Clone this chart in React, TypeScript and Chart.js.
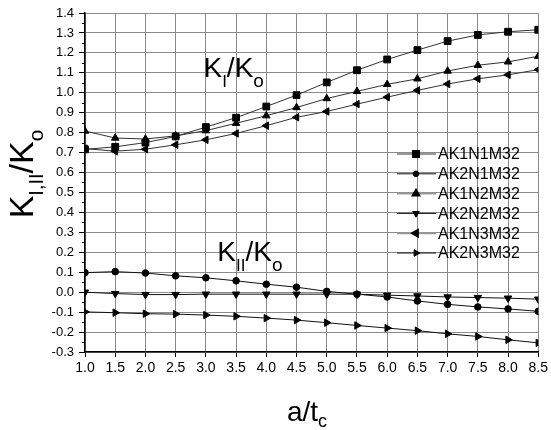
import React, { useEffect, useRef } from "react";
import { Chart, registerables } from "chart.js";
import { drawPoint } from "chart.js/helpers";

Chart.register(...registerables);

const xs = [1.0, 1.5, 2.0, 2.5, 3.0, 3.5, 4.0, 4.5, 5.0, 5.5, 6.0, 6.5, 7.0, 7.5, 8.0, 8.5];

const AK1N1M32 = [0.716, 0.729, 0.75, 0.781, 0.828, 0.875, 0.931, 0.988, 1.052, 1.113, 1.167, 1.214, 1.259, 1.29, 1.306, 1.316];
const AK2N1M32 = [0.098, 0.103, 0.096, 0.082, 0.072, 0.057, 0.04, 0.025, 0.004, -0.01, -0.024, -0.044, -0.061, -0.074, -0.084, -0.096];
const AK1N2M32 = [0.808, 0.773, 0.768, 0.784, 0.81, 0.847, 0.885, 0.926, 0.971, 1.007, 1.042, 1.07, 1.109, 1.138, 1.155, 1.183];
const AK2N2M32 = [0.0, -0.007, -0.012, -0.012, -0.01, -0.01, -0.01, -0.01, -0.01, -0.01, -0.015, -0.019, -0.024, -0.027, -0.03, -0.035];
const AK1N3M32 = [0.72, 0.707, 0.717, 0.739, 0.764, 0.796, 0.835, 0.877, 0.906, 0.943, 0.978, 1.012, 1.044, 1.07, 1.09, 1.116];
const AK2N3M32 = [-0.099, -0.103, -0.108, -0.11, -0.115, -0.121, -0.13, -0.14, -0.153, -0.167, -0.18, -0.193, -0.209, -0.222, -0.239, -0.254];

const seriesNames = ["AK1N1M32", "AK2N1M32", "AK1N2M32", "AK2N2M32", "AK1N3M32", "AK2N3M32"];
const seriesValues = [AK1N1M32, AK2N1M32, AK1N2M32, AK2N2M32, AK1N3M32, AK2N3M32];
const pointStyles = ["rect", "circle", "triangle", "triangle", "triangle", "triangle"];
const pointRotations = [0, 0, 0, 180, 270, 90];
const pointRadii = [4.8, 3.3, 4.3, 4.3, 4.3, 4.3];
const lineColors = ["#333", "#111", "#333", "#111", "#333", "#111"];
const legendLineColors = ["#999", "#111", "#999", "#111", "#999", "#111"];
const legendLineWidths = [2, 1, 2, 1, 2, 1];

const xTicksMin = 1.0;
const xTicksMax = 8.5;
const yTicksMin = -0.3;
const yTicksMax = 1.4;

const FONT = '"Liberation Sans", Arial, Helvetica, sans-serif';

type Part = [string, number, number];

function richWidth(ctx: CanvasRenderingContext2D, parts: Part[]) {
  let w = 0;
  for (const [t, s] of parts) {
    ctx.font = `${s}px ${FONT}`;
    w += ctx.measureText(t).width;
  }
  return w;
}

function drawRich(ctx: CanvasRenderingContext2D, x: number, y: number, parts: Part[]) {
  let cx = x;
  for (const [t, s, dy] of parts) {
    ctx.font = `${s}px ${FONT}`;
    ctx.fillText(t, cx, y + dy);
    cx += ctx.measureText(t).width;
  }
}

const decorPlugin = {
  id: "decor",
  afterDraw(chart: any) {
    const ctx: CanvasRenderingContext2D = chart.ctx;
    const xS = chart.scales.x;
    const yS = chart.scales.y;
    const area = chart.chartArea;
    ctx.save();
    ctx.fillStyle = "#000";
    ctx.textBaseline = "alphabetic";
    ctx.textAlign = "left";

    // minor ticks on y axis
    ctx.strokeStyle = "#000";
    ctx.lineWidth = 1;
    ctx.beginPath();
    for (let i = 0; i < 17; i++) {
      const v = yTicksMin + 0.05 + i * 0.1;
      const py = Math.round(yS.getPixelForValue(v)) + 0.5;
      ctx.moveTo(area.left - 3, py);
      ctx.lineTo(area.left, py);
    }
    ctx.stroke();

    // annotations
    const kI: Part[] = [["K", 28, 0], ["I", 17, 10], ["/K", 28, 0], ["o", 19, 10]];
    drawRich(ctx, xS.getPixelForValue(2.96), yS.getPixelForValue(1.078), kI);
    const kII: Part[] = [["K", 28, 0], ["II", 17, 10], ["/K", 28, 0], ["o", 19, 10]];
    drawRich(ctx, xS.getPixelForValue(3.19), yS.getPixelForValue(0.154), kII);

    // y title
    const yt: Part[] = [["K", 34, 0], ["I,II", 20, 10], ["/K", 34, 0], ["o", 21, 10]];
    ctx.save();
    ctx.translate(33, 174);
    ctx.rotate(-Math.PI / 2);
    const w = richWidth(ctx, yt);
    drawRich(ctx, -w / 2, 0, yt);
    ctx.restore();

    // x title
    const xt: Part[] = [["a/t", 28, 0], ["c", 18, 6]];
    const xw = richWidth(ctx, xt);
    drawRich(ctx, 307 - xw / 2, 421, xt);

    // legend
    for (let i = 0; i < seriesNames.length; i++) {
      const ly = 154 + i * 19.8;
      ctx.strokeStyle = legendLineColors[i];
      ctx.lineWidth = legendLineWidths[i];
      ctx.beginPath();
      ctx.moveTo(397, ly);
      ctx.lineTo(436, ly);
      ctx.stroke();
      ctx.fillStyle = "#000";
      ctx.strokeStyle = "#000";
      drawPoint(ctx, { pointStyle: pointStyles[i], rotation: pointRotations[i], radius: pointRadii[i] - 0.5, borderWidth: 1 } as any, 416, ly);
      ctx.fillStyle = "#000";
      ctx.font = `16px ${FONT}`;
      ctx.textBaseline = "middle";
      ctx.fillText(seriesNames[i], 438, ly + 1);
      ctx.textBaseline = "alphabetic";
    }
    ctx.restore();
  },
};

export default function App() {
  const ref = useRef<HTMLCanvasElement | null>(null);
  useEffect(() => {
    if (!ref.current) return;
    const datasets = seriesNames.map((name, i) => ({
      label: name,
      data: xs.map((x, j) => ({ x, y: seriesValues[i][j] })),
      borderColor: lineColors[i],
      borderWidth: 1,
      backgroundColor: "#000",
      pointBackgroundColor: "#000",
      pointBorderColor: "#000",
      pointBorderWidth: 1,
      pointStyle: pointStyles[i],
      pointRotation: pointRotations[i],
      pointRadius: pointRadii[i],
      tension: 0,
      fill: false,
    }));
    const fmt = (v: any) => {
      const n = Number(v);
      return (Math.abs(n) < 1e-9 ? 0 : n).toFixed(1);
    };
    const chart = new Chart(ref.current, {
      type: "line",
      data: { datasets },
      options: {
        animation: false,
        responsive: true,
        maintainAspectRatio: false,
        layout: { padding: { top: 13, right: 10, left: 0, bottom: 0 } },
        plugins: { legend: { display: false }, tooltip: { enabled: false } },
        scales: {
          x: {
            type: "linear",
            min: xTicksMin,
            max: xTicksMax,
            afterFit: (s: any) => { s.height = 78; },
            ticks: { stepSize: 0.5, callback: fmt, color: "#000", font: { size: 14, family: FONT }, padding: 3, maxRotation: 0, autoSkip: false },
            grid: { color: "#8a8a8a", borderDash: [1.5, 3], lineWidth: 1, tickLength: 5, tickColor: "#000", tickBorderDash: [], tickWidth: 1 },
            border: { display: true, color: "#000", width: 1.5 },
          },
          y: {
            type: "linear",
            min: yTicksMin,
            max: yTicksMax,
            afterFit: (s: any) => { s.width = 85; },
            ticks: { stepSize: 0.1, callback: fmt, color: "#000", font: { size: 13, family: FONT }, padding: 5, autoSkip: false },
            grid: { color: "#8a8a8a", borderDash: [1.5, 3], lineWidth: 1, tickLength: 6, tickColor: "#000", tickBorderDash: [], tickWidth: 1 },
            border: { display: true, color: "#000", width: 1.5 },
          },
        },
      } as any,
      plugins: [decorPlugin],
    });
    return () => chart.destroy();
  }, []);
  return (
    <div style={{ position: "fixed", left: 0, top: 0, width: 551, height: 430, background: "#fff" }}>
      <canvas ref={ref} />
    </div>
  );
}
